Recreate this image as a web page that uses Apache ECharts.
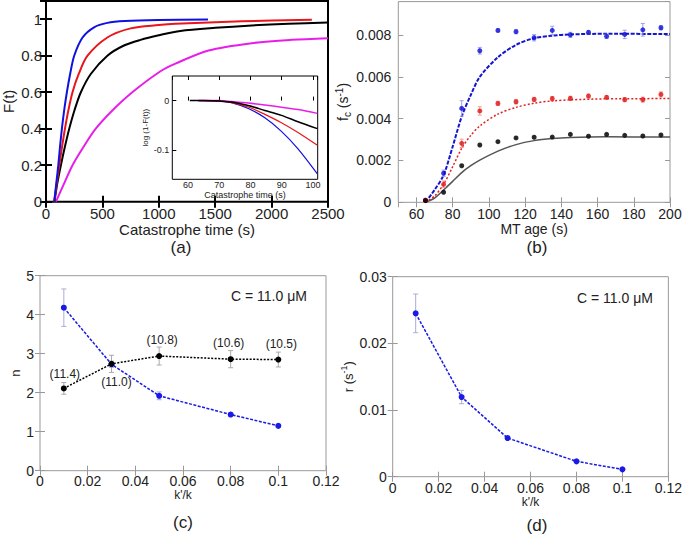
<!DOCTYPE html>
<html><head><meta charset="utf-8">
<script src="https://cdn.jsdelivr.net/npm/echarts@6/dist/echarts.min.js"></script>
<style>html,body{margin:0;padding:0;background:#fff}#c{width:685px;height:534px}</style>
</head><body><div id="c"></div>
<script>
// ---------- Panel (a): F(t) vs catastrophe time ----------
const aBlue = [[73,0],[91,0.1],[109,0.2],[124,0.3],[141,0.4],[161,0.5],[185,0.6],[214,0.7],[250,0.8],[324,0.9],[426,0.956],[544,0.98],[700,0.99],[1000,0.996],[1436,0.999]];
const aRed = [[73,0],[95,0.1],[118,0.2],[142,0.3],[168,0.4],[198,0.5],[235,0.6],[290,0.7],[368,0.8],[544,0.9],[750,0.95],[1000,0.968],[1147,0.975],[1736,0.989],[2357,0.997]];
const aBlack = [[75,0],[100,0.1],[132,0.2],[167,0.3],[206,0.4],[252,0.5],[309,0.6],[397,0.7],[544,0.8],[691,0.856],[838,0.887],[1000,0.912],[1191,0.936],[1500,0.953],[1824,0.966],[2150,0.975],[2500,0.982]];
const aMagenta = [[88,0],[150,0.085],[235,0.2],[332,0.3],[441,0.4],[588,0.5],[765,0.6],[1015,0.715],[1147,0.757],[1441,0.829],[1824,0.869],[2177,0.887],[2500,0.896]];
// inset: log(1-F(t))
const inBlack = [[60.6,0],[65,0],[70,-0.001],[74,-0.003],[79.3,-0.010],[84.6,-0.020],[89.9,-0.030],[95.2,-0.043],[101.4,-0.057]];
const inRed = [[63.3,0],[70,-0.001],[74,-0.004],[79.3,-0.013],[84.6,-0.028],[89.9,-0.045],[95.2,-0.065],[101.4,-0.091]];
const inBlue = [[63.3,0],[70,-0.001],[73.9,-0.004],[79.3,-0.016],[84.6,-0.035],[89.9,-0.0625],[95.2,-0.098],[101.4,-0.149]];
const inMagenta = [[63.3,0],[70,0],[74,-0.002],[79.3,-0.005],[84.6,-0.009],[89.9,-0.0135],[95.2,-0.018],[101.4,-0.026]];

// ---------- Panel (b): f_c vs MT age ----------
const ages = [65,75,85,95,105,115,125,135,145,155,165,175,185,195];
const bBlue = [0.0001,0.00139,0.00449,0.00725,0.00822,0.00816,0.00787,0.00822,0.00801,0.00813,0.00794,0.00803,0.00825,0.00835];
const bBlueErr = [0.00005,0.00015,0.00037,0.00016,0.00008,0.0001,0.00015,0.0002,0.00012,0.00008,0.0001,0.0002,0.0003,0.0001];
const bRed = [0.0001,0.00086,0.00282,0.00437,0.00473,0.00481,0.00492,0.00496,0.00497,0.00508,0.00502,0.00491,0.00491,0.00516];
const bRedErr = [0.00005,0.00016,0.0002,0.0002,0.0001,0.0001,0.0001,0.0001,0.0001,0.0001,0.00008,0.0001,0.00012,0.00012];
const bBlack = [0.00008,0.00048,0.00175,0.00274,0.0029,0.00308,0.00311,0.00312,0.00325,0.00316,0.00325,0.0032,0.00317,0.00322];
const bBlackErr = [0.00003,0.00004,0.00005,0.00005,0.00005,0.00005,0.00005,0.00005,0.00005,0.00005,0.00005,0.00005,0.00005,0.00005];
const fitBlue = [[65,0],[70,0.00059],[75,0.0013],[80,0.00266],[85,0.0041],[90,0.00513],[95,0.006],[105,0.00694],[115,0.00753],[125,0.00785],[135,0.00797],[145,0.00803],[165,0.00806],[200,0.00805]];
const fitRed = [[65,0],[70,0.0003],[75,0.00086],[80,0.0017],[85,0.00258],[90,0.0032],[95,0.00365],[105,0.00422],[115,0.00454],[125,0.00474],[135,0.00485],[145,0.0049],[165,0.00495],[200,0.00496]];
const fitBlack = [[65,0],[70,0.0002],[75,0.00059],[80,0.001],[85,0.00142],[90,0.00175],[95,0.00202],[105,0.00245],[115,0.00276],[125,0.00295],[135,0.00305],[145,0.0031],[165,0.00313],[200,0.00312]];

// ---------- Panels (c) and (d) ----------
const kRatio = [0.01,0.03,0.05,0.08,0.1];
const nBlue = [4.18,2.73,1.92,1.44,1.15];
const nBlueErr = [0.48,0.08,0.1,0.05,0.04];
const nBlack = [2.11,2.74,2.94,2.86,2.85];
const nBlackErr = [0.15,0.22,0.23,0.22,0.19];
const concLabels = ['(11.4)','(11.0)','(10.8)','(10.6)','(10.5)'];
const rVals = [0.0245,0.01195,0.0058,0.0023,0.0011];
const rErr = [0.0029,0.001,0.0002,0.0001,0.0001];

const FONT = 'Liberation Sans, Arial, Helvetica, sans-serif';
const TXT = '#222';
const plain = v => String(v);

const grids = [
  {left:45, top:1, width:283, height:200.7, show:true, borderColor:'#000', borderWidth:2, z:0},
  {left:172.3, top:76, width:145.4, height:103.3, show:true, borderColor:'#000', borderWidth:1, backgroundColor:'#fff', z:10},
  {left:398.3, top:1.6, width:271.7, height:200.7, show:true, borderColor:'#999', borderWidth:1, z:0},
  {left:40, top:275.7, width:286, height:195, show:true, borderColor:'#999', borderWidth:1, z:0},
  {left:392.7, top:276.7, width:277.3, height:200, show:true, borderColor:'#999', borderWidth:1, z:0}
];

const xAxes = [], yAxes = [];
function addX(o){ xAxes.push(Object.assign({type:'value', splitLine:{show:false}, axisLine:{show:false}}, o)); return xAxes.length-1; }
function addY(o){ yAxes.push(Object.assign({type:'value', splitLine:{show:false}, axisLine:{show:false}}, o)); return yAxes.length-1; }
function lab(size, margin, extra){ return Object.assign({fontSize:size, color:TXT, margin:margin, fontFamily:FONT, formatter:plain}, extra||{}); }
const noLab = {show:false};

const tickA = {show:true, inside:true, length:6, lineStyle:{color:'#000', width:2}};
const tickIn = {show:true, inside:true, length:4, lineStyle:{color:'#000', width:1}};
const tickG = {show:true, inside:true, length:5, lineStyle:{color:'#999', width:1}};

// panel a
const xa = addX({gridIndex:0, position:'bottom', min:0, max:2500, interval:500, axisTick:tickA, axisLabel:lab(15,4),
  name:'Catastrophe time (s)', nameLocation:'middle', nameGap:18, nameTextStyle:{fontSize:15, color:TXT, fontFamily:FONT}});
addX({gridIndex:0, position:'top', min:0, max:2500, interval:500, axisTick:tickA, axisLabel:noLab});
const ya = addY({gridIndex:0, position:'left', min:0, max:1.1, interval:0.2, axisTick:tickA, axisLabel:lab(15,4,{showMaxLabel:false}),
  name:'F(t)', nameLocation:'middle', nameGap:30, nameTextStyle:{fontSize:15, color:TXT, fontFamily:FONT}});
addY({gridIndex:0, position:'right', min:0, max:1.1, interval:0.2, axisTick:tickA, axisLabel:noLab});
// inset
const xi = addX({gridIndex:1, position:'bottom', min:55, max:101.5, splitNumber:5, z:11, axisTick:tickIn,
  axisLabel:lab(9,1,{showMinLabel:false, showMaxLabel:false}),
  name:'Catastrophe time (s)', nameLocation:'middle', nameGap:9, nameTextStyle:{fontSize:9, color:TXT, fontFamily:FONT}});
addX({gridIndex:1, position:'top', min:55, max:101.5, splitNumber:5, z:11, axisTick:tickIn, axisLabel:noLab});
const yi = addY({gridIndex:1, position:'left', min:-0.16, max:0.05, splitNumber:2, z:11, axisTick:tickIn,
  axisLabel:lab(9,3,{showMinLabel:false, showMaxLabel:false}),
  name:'log (1-F(t))', nameLocation:'middle', nameGap:16, nameTextStyle:{fontSize:8, color:TXT, fontFamily:FONT}});
// panel b
const xb = addX({gridIndex:2, position:'bottom', min:50, max:200, splitNumber:7, axisTick:tickG, axisLabel:lab(14,5,{showMinLabel:false}),
  name:'MT age (s)', nameLocation:'middle', nameGap:16, nameTextStyle:{fontSize:14, color:TXT, fontFamily:FONT}});
addX({gridIndex:2, position:'top', min:50, max:200, splitNumber:7, axisTick:tickG, axisLabel:noLab});
const yb = addY({gridIndex:2, position:'left', min:0, max:0.0096, interval:0.002, axisTick:tickG, axisLabel:lab(14,7,{showMaxLabel:false}),
  name:'{n|f}{sub|c}{n| (s}{sup|-1}{n|)}', nameLocation:'middle', nameGap:38,
  nameTextStyle:{fontSize:14, color:TXT, fontFamily:FONT, rich:{
    n:{fontSize:14, color:TXT, fontFamily:FONT},
    sub:{fontSize:10, color:TXT, fontFamily:FONT, padding:[8,0,0,0]},
    sup:{fontSize:10, color:TXT, fontFamily:FONT, padding:[0,0,8,0]}}}});
addY({gridIndex:2, position:'right', min:0, max:0.0096, interval:0.002, axisTick:tickG, axisLabel:noLab});
// panel c
const xc = addX({gridIndex:3, position:'bottom', min:0, max:0.12, interval:0.02, axisTick:tickG, axisLabel:lab(14,3),
  name:"k'/k", nameLocation:'middle', nameGap:10, nameTextStyle:{fontSize:12, color:TXT, fontFamily:FONT}});
addX({gridIndex:3, position:'top', min:0, max:0.12, interval:0.02, axisTick:tickG, axisLabel:noLab});
const yc = addY({gridIndex:3, position:'left', min:0, max:5, interval:1, axisTick:tickG, axisLabel:lab(14,6),
  name:'n', nameLocation:'middle', nameGap:12, nameTextStyle:{fontSize:13, color:TXT, fontFamily:FONT}});
addY({gridIndex:3, position:'right', min:0, max:5, interval:1, axisTick:tickG, axisLabel:noLab});
// panel d
const xd = addX({gridIndex:4, position:'bottom', min:0, max:0.12, interval:0.02, axisTick:tickG, axisLabel:lab(14,4),
  name:"k'/k", nameLocation:'middle', nameGap:18, nameTextStyle:{fontSize:12, color:TXT, fontFamily:FONT}});
addX({gridIndex:4, position:'top', min:0, max:0.12, interval:0.02, axisTick:tickG, axisLabel:noLab});
const yd = addY({gridIndex:4, position:'left', min:0, max:0.03, interval:0.01, axisTick:tickG, axisLabel:lab(14,6),
  name:'{n|r (s}{sup|-1}{n|)}', nameLocation:'middle', nameGap:36,
  nameTextStyle:{fontSize:13, color:TXT, fontFamily:FONT, rich:{
    n:{fontSize:13, color:TXT, fontFamily:FONT},
    sup:{fontSize:9, color:TXT, fontFamily:FONT, padding:[0,0,8,0]}}}});
addY({gridIndex:4, position:'right', min:0, max:0.03, interval:0.01, axisTick:tickG, axisLabel:noLab});

function curve(xi_, yi_, data, color, width, z, type, sm){
  return {type:'line', xAxisIndex:xi_, yAxisIndex:yi_, data:data, showSymbol:false, symbol:'none',
    smooth: sm===undefined ? 0.3 : sm, z:z||2, silent:true,
    lineStyle:{color:color, width:width, type:type||'solid'}};
}
function errBars(xi_, yi_, xs, ys, es, color, cap, z){
  return {type:'custom', xAxisIndex:xi_, yAxisIndex:yi_, z:z||3, silent:true,
    encode:{x:0, y:1},
    data: xs.map((x,i)=>[x, ys[i], es[i]]),
    renderItem:function(params, api){
      const x=api.value(0), y=api.value(1), e=api.value(2);
      const lo=api.coord([x,y-e]), hi=api.coord([x,y+e]);
      const st={stroke:color, lineWidth:1};
      return {type:'group', children:[
        {type:'line', shape:{x1:lo[0],y1:lo[1],x2:hi[0],y2:hi[1]}, style:st},
        {type:'line', shape:{x1:lo[0]-cap,y1:lo[1],x2:lo[0]+cap,y2:lo[1]}, style:st},
        {type:'line', shape:{x1:hi[0]-cap,y1:hi[1],x2:hi[0]+cap,y2:hi[1]}, style:st}
      ]};
    }};
}
function pts(xi_, yi_, xs, ys, color, size, z){
  return {type:'scatter', xAxisIndex:xi_, yAxisIndex:yi_, data:xs.map((x,i)=>[x,ys[i]]),
    symbol:'circle', symbolSize:size, itemStyle:{color:color}, z:z||4, silent:true};
}

const BLUE='#1010e0', RED='#e8161b', MAG='#e81ee8';
const series = [
  curve(xa, ya, aMagenta, MAG, 2),
  curve(xa, ya, aBlack, '#000', 2),
  curve(xa, ya, aRed, RED, 2),
  curve(xa, ya, aBlue, BLUE, 2),
  curve(xi, yi, inMagenta, MAG, 1.5, 12),
  curve(xi, yi, inBlue, BLUE, 1.2, 12),
  curve(xi, yi, inRed, RED, 1.2, 12),
  curve(xi, yi, inBlack, '#000', 1.5, 12),
  // panel b
  curve(xb, yb, fitBlack, '#555', 1.5, 2),
  curve(xb, yb, fitRed, '#e02020', 1.5, 2, [2,2]),
  curve(xb, yb, fitBlue, '#1515d0', 2, 2, [4,1.5]),
  errBars(xb, yb, ages, bBlue, bBlueErr, '#9aa2ee', 2),
  errBars(xb, yb, ages, bRed, bRedErr, '#f29a9a', 2),
  errBars(xb, yb, ages, bBlack, bBlackErr, '#aaaaaa', 2),
  pts(xb, yb, ages, bBlue, '#0a0ad8', 5),
  pts(xb, yb, ages, bRed, '#e01010', 5),
  pts(xb, yb, ages, bBlack, '#000', 5),
  // panel c
  errBars(xc, yc, kRatio, nBlue, nBlueErr, '#a9acd8', 2.5),
  errBars(xc, yc, kRatio, nBlack, nBlackErr, '#aaaaaa', 2.5),
  {type:'line', xAxisIndex:xc, yAxisIndex:yc, data:kRatio.map((x,i)=>[x,nBlue[i]]), symbol:'circle', symbolSize:6, z:5, silent:true,
    itemStyle:{color:'#1a1ae6'}, lineStyle:{color:'#1a1ae6', width:1.5, type:[3,1.5]}},
  {type:'line', xAxisIndex:xc, yAxisIndex:yc, symbol:'circle', symbolSize:6, z:5, silent:true,
    itemStyle:{color:'#000'}, lineStyle:{color:'#000', width:1.5, type:[2,1.5]},
    data:kRatio.map((x,i)=>({value:[x,nBlack[i]], label:{show:true, formatter:concLabels[i],
      position: i===1 ? 'bottom' : 'top',
      offset: [[1,0],[5,4],[3,-2],[-2,-2],[3,-2]][i],
      fontSize:12, color:TXT, fontFamily:FONT, textBorderWidth:0}}))},
  // panel d
  errBars(xd, yd, kRatio, rVals, rErr, '#a9acd8', 2.5),
  {type:'line', xAxisIndex:xd, yAxisIndex:yd, data:kRatio.map((x,i)=>[x,rVals[i]]), symbol:'circle', symbolSize:6, z:5, silent:true,
    itemStyle:{color:'#1a1ae6'}, lineStyle:{color:'#1a1ae6', width:1.5, type:[3,1.5]}}
];

function txt(x, y, s, size, align){
  return {type:'text', x:x, y:y, silent:true, style:{text:s, fontSize:size, fill:TXT, fontFamily:FONT, textAlign:align||'center', textVerticalAlign:'middle'}};
}
const graphics = [
  txt(181, 247, '(a)', 17), txt(537, 247, '(b)', 17),
  txt(183, 522, '(c)', 17), txt(537, 525, '(d)', 17),
  txt(231, 296, 'C = 11.0 μM', 14, 'left'), txt(577, 297.5, 'C = 11.0 μM', 14, 'left')
];

const chart = echarts.init(document.getElementById('c'), null, {renderer:'svg'});
chart.setOption({
  animation:false, backgroundColor:'#fff',
  grid:grids, xAxis:xAxes, yAxis:yAxes, series:series, graphic:graphics
});
</script></body></html>
